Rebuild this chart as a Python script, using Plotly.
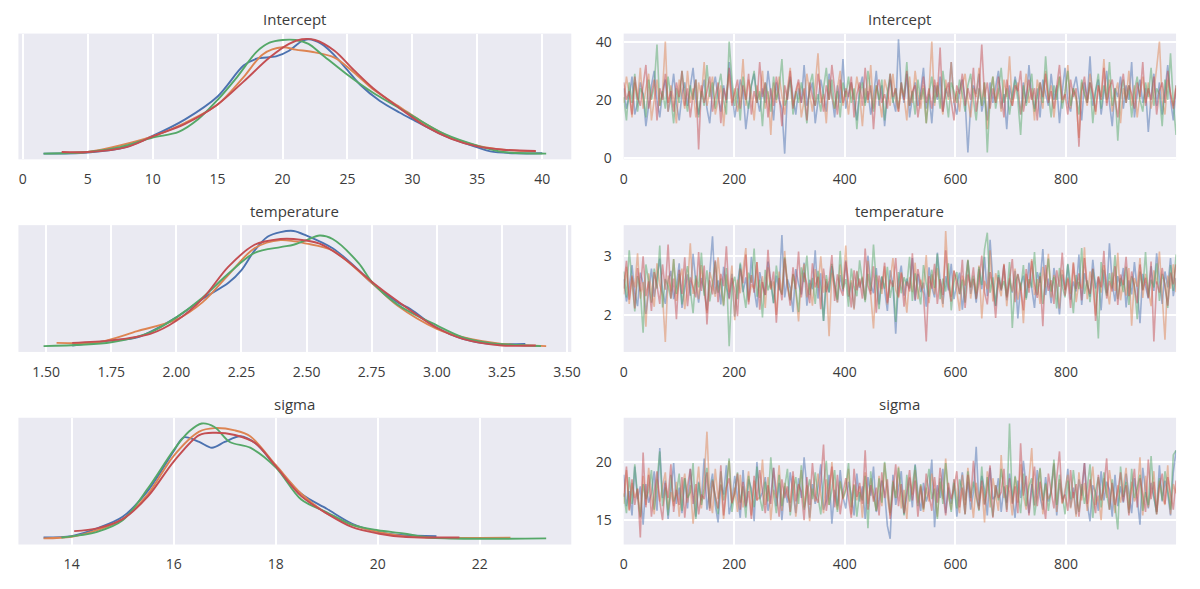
import numpy as np
import plotly.graph_objects as go

# ---------------- data ----------------
params = ["Intercept", "temperature", "sigma"]
chain_colors = ["#4C72B0", "#DD8452", "#55A868", "#C44E52"]

# KDE curves (x = parameter value, y = relative density), one list per chain
intercept_kde_x = [
    [1.6, 5, 8, 10, 12.5, 15, 17, 18, 19.5, 20.5, 21.5, 22, 23, 24, 25, 26, 27.5, 29, 30, 32.5, 35, 36, 38, 40],
    [3.0, 5, 10, 12.5, 15, 17, 18.5, 20, 21, 22.5, 24, 25.5, 27, 29, 31, 33, 35, 37, 39.5],
    [1.6, 5, 7.5, 10, 12, 13.5, 15, 16.5, 18, 19, 20, 21, 22, 23, 25, 27, 28.5, 30, 32.5, 35, 37, 40.3],
    [3.0, 5, 8, 10, 12.5, 15, 17, 19, 20.5, 21.5, 22.5, 24, 25.5, 27, 29, 31, 33, 35, 37, 39.5],
]
intercept_kde_y = [
    [0.0, 0.01, 0.06, 0.155, 0.30, 0.50, 0.77, 0.83, 0.85, 0.90, 0.985, 1.0, 0.96, 0.86, 0.73, 0.60, 0.46, 0.36, 0.30, 0.155, 0.055, 0.02, 0.003, 0.003],
    [0.01, 0.014, 0.15, 0.27, 0.43, 0.67, 0.87, 0.93, 0.91, 0.886, 0.84, 0.71, 0.56, 0.41, 0.26, 0.14, 0.07, 0.034, 0.02],
    [0.0, 0.014, 0.057, 0.14, 0.19, 0.30, 0.47, 0.67, 0.89, 0.97, 0.994, 0.994, 0.96, 0.87, 0.69, 0.53, 0.43, 0.33, 0.17, 0.07, 0.014, 0.0],
    [0.014, 0.014, 0.057, 0.15, 0.26, 0.43, 0.63, 0.84, 0.96, 1.0, 0.994, 0.90, 0.73, 0.57, 0.40, 0.24, 0.13, 0.063, 0.034, 0.023],
]
temperature_kde_x = [
    [1.6, 1.75, 1.85, 2.0, 2.1, 2.2, 2.25, 2.3, 2.35, 2.4, 2.45, 2.5, 2.6, 2.7, 2.75, 2.85, 2.9, 3.0, 3.1, 3.2, 3.34],
    [1.54, 1.7, 1.85, 2.0, 2.1, 2.2, 2.3, 2.4, 2.5, 2.6, 2.75, 2.85, 3.0, 3.1, 3.25, 3.42],
    [1.49, 1.75, 1.9, 2.0, 2.1, 2.2, 2.3, 2.4, 2.45, 2.5, 2.55, 2.6, 2.7, 2.75, 2.85, 3.0, 3.1, 3.2, 3.4],
    [1.6, 1.75, 1.9, 2.0, 2.1, 2.2, 2.3, 2.4, 2.45, 2.55, 2.65, 2.75, 2.85, 3.0, 3.1, 3.25, 3.38],
]
temperature_kde_y = [
    [0.006, 0.05, 0.077, 0.25, 0.41, 0.55, 0.66, 0.83, 0.95, 0.99, 1.0, 0.96, 0.85, 0.66, 0.55, 0.38, 0.32, 0.16, 0.063, 0.02, 0.02],
    [0.029, 0.034, 0.13, 0.23, 0.38, 0.62, 0.85, 0.92, 0.89, 0.83, 0.55, 0.35, 0.15, 0.077, 0.02, 0.0],
    [0.0, 0.034, 0.12, 0.25, 0.42, 0.63, 0.81, 0.86, 0.88, 0.92, 0.96, 0.93, 0.72, 0.56, 0.36, 0.18, 0.077, 0.029, 0.0],
    [0.029, 0.05, 0.106, 0.22, 0.41, 0.69, 0.88, 0.93, 0.93, 0.89, 0.75, 0.56, 0.39, 0.16, 0.063, 0.006, 0.006],
]
sigma_kde_x = [
    [13.45, 14, 14.5, 15, 15.5, 16, 16.2, 16.5, 16.75, 17, 17.3, 17.6, 18, 18.5, 19, 19.5, 20, 20.5, 21.15],
    [13.45, 14, 14.5, 15, 15.5, 16, 16.5, 16.8, 17.2, 17.5, 18, 18.5, 19, 19.5, 20, 20.5, 21, 22.6],
    [13.8, 14.5, 15, 15.5, 16, 16.3, 16.55, 16.8, 17.1, 17.5, 18, 18.5, 19, 19.5, 20, 20.5, 21, 22, 23.3],
    [14.05, 14.5, 15, 15.5, 16, 16.5, 16.8, 17.2, 17.6, 18, 18.5, 19, 19.5, 20, 20.5, 21.6],
]
sigma_kde_y = [
    [0.011, 0.023, 0.09, 0.19, 0.42, 0.76, 0.88, 0.84, 0.79, 0.84, 0.89, 0.83, 0.63, 0.39, 0.26, 0.13, 0.06, 0.03, 0.023],
    [0.003, 0.017, 0.074, 0.17, 0.39, 0.72, 0.93, 0.96, 0.94, 0.89, 0.64, 0.39, 0.22, 0.12, 0.06, 0.023, 0.009, 0.009],
    [0.011, 0.06, 0.16, 0.44, 0.77, 0.93, 1.0, 0.97, 0.84, 0.79, 0.62, 0.34, 0.23, 0.12, 0.074, 0.046, 0.011, 0.0, 0.003],
    [0.066, 0.09, 0.17, 0.37, 0.67, 0.90, 0.92, 0.90, 0.83, 0.63, 0.37, 0.22, 0.10, 0.046, 0.017, 0.011],
]

# Trace samples: thinned reading of the 1000 draws of each chain (200 per chain)
n_draws = 1000
intercept_trace = [
    [24, 17, 21, 28, 15, 19, 26, 22, 11, 18, 25, 30, 20, 14, 23, 27, 16, 21, 29, 19,
     13, 22, 26, 18, 24, 31, 20, 15, 22, 27, 17, 12, 23, 28, 21, 16, 25, 19, 33, 22,
     14, 20, 27, 23, 10, 18, 25, 29, 21, 16, 24, 19, 30, 22, 13, 26, 20, 17, 1.6, 23,
     28, 21, 15, 24, 19, 32, 18, 23, 26, 12, 20, 27, 22, 16, 29, 21, 14, 25, 19, 34,
     17, 22, 26, 20, 13, 24, 28, 19, 23, 15, 21, 30, 18, 25, 11, 22, 27, 20, 16, 40.8,
     24, 19, 29, 14, 21, 26, 18, 23, 31, 17, 22, 12, 25, 20, 28, 16, 24, 21, 33, 19,
     15, 23, 27, 20, 2, 18, 25, 22, 29, 16, 21, 13, 26, 19, 24, 30, 17, 22, 10, 25,
     20, 28, 23, 15, 26, 19, 32, 21, 17, 24, 14, 27, 22, 18, 29, 20, 25, 12, 23, 31,
     19, 16, 24, 28, 21, 13, 26, 20, 35, 18, 23, 27, 15, 22, 30, 19, 11, 24, 21, 28,
     17, 25, 20, 33, 14, 22, 27, 19, 24, 9, 21, 29, 18, 26, 15, 23, 32, 20, 13, 25],
    [19, 28, 22, 14, 26, 20, 31, 17, 24, 29, 13, 21, 27, 18, 23, 40, 16, 25, 20, 12,
     27, 22, 17, 30, 19, 24, 14, 26, 21, 33, 18, 23, 28, 15, 20, 25, 11, 22, 29, 19,
     24, 16, 21, 34, 18, 27, 22, 13, 25, 20, 30, 17, 23, 8, 26, 19, 28, 21, 15, 24,
     31, 18, 22, 26, 14, 20, 29, 23, 16, 25, 36, 19, 22, 12, 27, 21, 17, 24, 30, 18,
     23, 15, 26, 20, 28, 22, 11, 24, 19, 32, 17, 25, 21, 14, 27, 23, 18, 29, 20, 16,
     24, 21, 13, 28, 19, 30, 22, 17, 25, 12, 23, 40, 18, 26, 21, 15, 27, 20, 33, 19,
     23, 16, 25, 29, 20, 14, 24, 21, 31, 18, 26, 10, 22, 28, 19, 24, 16, 27, 21, 35,
     18, 23, 26, 15, 21, 29, 19, 24, 13, 27, 22, 17, 30, 20, 25, 14, 23, 28, 19, 21,
     32, 17, 24, 20, 7, 26, 22, 18, 29, 23, 15, 25, 21, 34, 19, 27, 16, 22, 26, 12,
     24, 20, 30, 18, 25, 14, 22, 28, 19, 26, 17, 23, 31, 40, 20, 15, 27, 22, 18, 25],
    [21, 13, 26, 19, 29, 16, 24, 22, 14, 27, 20, 25, 39, 18, 23, 17, 28, 21, 12, 24,
     19, 30, 22, 16, 25, 20, 27, 14, 23, 18, 32, 21, 26, 17, 24, 29, 20, 15, 40, 27,
     18, 24, 13, 28, 21, 17, 25, 30, 19, 23, 11, 26, 22, 16, 28, 20, 24, 34, 18, 21,
     27, 15, 23, 19, 26, 21, 12, 25, 29, 18, 22, 16, 24, 31, 20, 27, 17, 23, 14, 26,
     21, 28, 19, 24, 10, 22, 26, 18, 30, 23, 16, 25, 20, 27, 13, 22, 29, 19, 24, 17,
     26, 21, 33, 18, 23, 15, 27, 20, 24, 12, 22, 28, 19, 25, 17, 30, 21, 14, 26, 23,
     19, 27, 22, 16, 25, 29, 20, 13, 24, 18, 26, 2, 21, 28, 17, 23, 31, 19, 24, 15,
     22, 27, 20, 8, 25, 18, 23, 29, 16, 21, 26, 19, 35, 22, 14, 25, 20, 28, 17, 23,
     30, 18, 24, 21, 15, 27, 22, 19, 26, 12, 23, 29, 17, 25, 20, 33, 18, 24, 6, 22,
     27, 19, 25, 14, 23, 28, 20, 16, 26, 21, 31, 18, 24, 22, 11, 27, 20, 36, 19, 8],
    [26, 20, 23, 15, 28, 21, 18, 25, 32, 17, 22, 27, 13, 24, 20, 29, 19, 23, 16, 26,
     21, 30, 18, 24, 14, 22, 27, 3, 25, 19, 23, 28, 16, 21, 26, 12, 24, 20, 31, 18,
     22, 27, 17, 25, 20, 29, 15, 23, 19, 33, 21, 26, 14, 24, 18, 28, 22, 11, 25, 20,
     30, 17, 23, 27, 19, 24, 13, 26, 21, 18, 29, 22, 16, 25, 20, 32, 23, 15, 27, 19,
     24, 21, 28, 14, 22, 26, 18, 31, 20, 25, 10, 23, 27, 19, 22, 17, 29, 21, 24, 16,
     26, 20, 30, 18, 23, 25, 14, 22, 28, 19, 24, 17, 27, 21, 38, 16, 23, 26, 20, 13,
     25, 22, 29, 18, 24, 20, 31, 16, 23, 39, 21, 26, 17, 24, 19, 28, 22, 14, 27, 21,
     18, 25, 23, 30, 16, 22, 27, 20, 24, 13, 26, 21, 29, 19, 23, 17, 25, 32, 20, 22,
     15, 27, 21, 24, 4, 23, 28, 19, 26, 22, 16, 25, 20, 31, 18, 24, 27, 21, 14, 23,
     29, 19, 25, 22, 17, 26, 21, 33, 18, 24, 20, 28, 15, 23, 26, 19, 30, 22, 17, 24],
]
temperature_trace = [
    [2.61, 2.23, 2.48, 2.85, 2.37, 2.15, 2.72, 2.54, 2.02, 2.43, 2.79, 2.31, 2.66, 2.96, 2.40, 2.19, 2.58, 2.75, 2.27, 2.50,
     2.88, 2.12, 2.45, 2.69, 2.33, 3.04, 2.55, 2.21, 2.63, 2.41, 2.08, 2.77, 3.34, 2.36, 2.59, 2.18, 2.82, 2.47, 2.29, 2.70,
     1.97, 2.52, 2.86, 2.39, 2.64, 2.25, 2.99, 2.44, 2.13, 2.73, 2.50, 2.34, 2.91, 2.56, 2.20, 2.67, 2.42, 3.36, 2.30, 2.61,
     2.46, 2.05, 2.78, 2.53, 2.35, 2.89, 2.16, 2.60, 2.44, 3.10, 2.28, 2.71, 1.90, 2.57, 2.38, 2.83, 2.49, 2.22, 2.68, 2.40,
     2.93, 2.31, 2.55, 2.11, 2.74, 2.46, 2.63, 2.26, 3.01, 2.52, 2.37, 2.80, 2.18, 2.65, 2.43, 2.07, 2.76, 2.51, 1.68, 2.58,
     2.84, 2.33, 2.62, 2.45, 2.97, 2.24, 2.70, 2.39, 2.55, 2.14, 2.81, 2.48, 2.30, 3.06, 2.59, 2.19, 2.66, 2.42, 2.87, 2.27,
     2.53, 2.72, 2.09, 2.47, 2.92, 2.36, 2.61, 2.21, 2.78, 2.44, 2.99, 2.32, 3.28, 2.56, 2.15, 2.68, 2.41, 2.84, 2.25, 2.60,
     2.38, 2.75, 1.94, 2.50, 2.67, 2.29, 2.89, 2.46, 2.12, 2.73, 2.55, 3.12, 2.34, 2.62, 2.20, 2.80, 2.48, 2.01, 2.69, 2.43,
     2.86, 2.26, 2.57, 2.40, 3.03, 2.17, 2.71, 2.52, 2.31, 2.94, 2.45, 2.64, 2.08, 2.77, 2.37, 3.22, 2.54, 2.23, 2.66, 2.49,
     2.80, 2.13, 2.59, 2.35, 2.90, 2.44, 1.86, 2.70, 2.50, 2.28, 2.83, 2.41, 3.05, 2.56, 2.19, 2.74, 2.47, 2.97, 2.32, 2.63],
    [2.35, 2.82, 2.19, 2.64, 2.47, 3.05, 2.28, 2.56, 1.80, 2.71, 2.42, 2.14, 2.88, 2.51, 2.33, 1.54, 2.67, 2.40, 2.95, 2.24,
     2.58, 2.79, 2.10, 2.49, 3.22, 2.36, 2.62, 2.27, 2.85, 2.44, 2.03, 2.73, 2.55, 2.31, 2.98, 2.46, 2.17, 2.69, 2.39, 2.84,
     1.91, 2.60, 2.37, 2.76, 3.14, 2.22, 2.52, 2.45, 2.90, 2.29, 2.66, 2.12, 2.81, 2.43, 2.57, 2.00, 2.74, 2.34, 3.09, 2.50,
     2.26, 2.70, 2.41, 1.89, 2.63, 2.87, 2.30, 2.54, 2.16, 2.78, 2.46, 3.00, 2.38, 2.61, 1.64, 2.72, 2.49, 2.21, 2.86, 2.44,
     3.18, 2.32, 2.59, 2.09, 2.75, 2.48, 2.65, 2.25, 2.92, 2.40, 1.77, 2.68, 2.53, 2.36, 2.83, 2.18, 2.57, 2.97, 2.43, 2.29,
     2.73, 2.51, 2.04, 2.64, 2.39, 2.89, 2.27, 2.60, 2.45, 3.02, 2.20, 2.69, 2.35, 2.80, 2.48, 2.13, 3.43, 2.55, 2.31, 2.76,
     2.42, 2.07, 2.67, 2.50, 2.94, 2.28, 2.62, 2.37, 2.84, 1.94, 2.58, 2.44, 3.10, 2.23, 2.71, 2.49, 2.32, 2.87, 2.15, 2.63,
     2.40, 2.79, 2.26, 2.55, 1.86, 2.70, 2.46, 2.95, 2.34, 2.61, 2.19, 2.82, 2.47, 3.04, 2.30, 2.68, 2.53, 2.11, 2.77, 2.42,
     2.64, 2.36, 2.90, 2.22, 2.56, 2.45, 3.15, 2.27, 2.74, 2.51, 1.99, 2.66, 2.38, 2.85, 2.47, 2.18, 2.72, 2.41, 3.06, 2.25,
     2.59, 2.33, 2.80, 1.82, 2.63, 2.48, 2.97, 2.29, 2.70, 2.43, 2.15, 2.76, 2.52, 3.08, 2.35, 1.58, 2.67, 2.45, 2.86, 2.39],
    [2.74, 2.30, 3.10, 2.52, 2.06, 2.66, 2.41, 1.70, 2.86, 2.57, 2.21, 2.79, 2.45, 3.18, 2.13, 2.61, 2.49, 2.28, 2.95, 2.36,
     2.70, 2.18, 2.58, 2.83, 2.40, 2.03, 2.67, 2.47, 3.06, 2.33, 2.76, 2.23, 2.54, 2.91, 2.38, 2.62, 2.15, 2.80, 1.47, 2.50,
     2.65, 2.27, 2.89, 2.44, 2.12, 2.72, 2.55, 3.13, 2.31, 2.60, 1.96, 2.77, 2.42, 2.58, 2.20, 2.84, 2.48, 2.35, 2.98, 2.53,
     2.25, 2.69, 2.43, 2.05, 2.81, 2.56, 3.01, 2.34, 2.63, 2.19, 2.75, 2.46, 1.90, 2.68, 2.39, 2.87, 2.52, 2.26, 3.09, 2.44,
     2.61, 2.14, 2.79, 2.48, 2.32, 2.93, 2.57, 2.22, 2.70, 2.41, 3.20, 2.55, 2.10, 2.66, 2.45, 2.82, 2.29, 2.59, 1.88, 2.73,
     2.37, 2.64, 2.50, 2.99, 2.24, 2.71, 2.43, 2.18, 2.85, 2.53, 2.31, 2.77, 2.46, 3.04, 2.27, 2.62, 2.40, 2.88, 2.08, 2.56,
     2.73, 2.35, 2.60, 2.21, 2.94, 2.47, 2.67, 2.28, 2.82, 2.51, 3.12, 3.40, 2.38, 2.64, 2.16, 2.76, 2.44, 2.58, 2.32, 2.90,
     1.78, 2.55, 2.69, 2.42, 2.85, 2.26, 2.61, 2.47, 3.07, 2.34, 2.72, 2.19, 2.57, 2.96, 2.40, 2.65, 2.11, 2.80, 2.49, 2.30,
     2.87, 2.52, 2.03, 2.68, 2.44, 3.14, 2.36, 2.59, 2.22, 2.78, 2.48, 1.60, 2.90, 2.55, 2.33, 2.71, 2.45, 3.02, 2.27, 2.63,
     2.39, 2.82, 2.17, 2.66, 2.50, 1.93, 2.74, 2.43, 3.07, 2.31, 2.60, 2.47, 2.88, 2.24, 2.70, 2.53, 2.12, 2.85, 2.41, 3.03],
    [2.45, 2.92, 2.26, 2.67, 2.11, 2.80, 2.40, 3.00, 2.32, 2.57, 2.07, 2.73, 2.50, 2.19, 2.86, 2.43, 3.20, 2.28, 2.62, 1.93,
     2.77, 2.36, 2.98, 2.15, 2.64, 2.47, 2.30, 3.07, 2.41, 2.84, 1.84, 2.59, 2.35, 2.93, 2.22, 2.70, 2.49, 3.17, 2.27, 2.63,
     2.42, 1.98, 2.79, 2.54, 3.03, 2.18, 2.68, 2.38, 2.90, 2.09, 2.56, 2.34, 3.11, 2.45, 2.74, 1.87, 2.63, 2.25, 2.96, 2.51,
     2.16, 2.81, 2.44, 3.08, 2.30, 2.72, 2.53, 2.20, 2.88, 2.47, 2.65, 2.10, 2.79, 2.39, 2.58, 3.02, 2.24, 2.69, 2.46, 2.33,
     2.91, 2.55, 2.13, 2.76, 2.42, 2.62, 2.28, 3.13, 2.50, 2.35, 2.83, 2.04, 2.67, 2.44, 2.89, 2.21, 2.60, 2.48, 2.97, 2.31,
     2.71, 2.14, 2.57, 2.40, 3.05, 2.26, 2.78, 2.52, 2.37, 1.55, 2.66, 2.45, 2.87, 2.19, 2.61, 2.34, 3.10, 2.49, 2.23, 2.75,
     2.58, 2.36, 2.94, 2.12, 2.69, 2.47, 2.81, 2.27, 2.55, 3.01, 2.39, 2.18, 2.73, 2.50, 1.95, 2.64, 2.43, 2.86, 2.30, 2.60,
     2.95, 2.22, 2.70, 2.46, 2.08, 2.78, 2.38, 2.92, 2.53, 2.29, 2.66, 1.81, 2.85, 2.41, 2.59, 2.19, 2.76, 2.48, 3.06, 2.33,
     2.62, 2.12, 2.88, 2.44, 2.71, 2.25, 2.97, 2.52, 2.36, 2.79, 1.90, 2.65, 2.47, 3.09, 2.28, 2.58, 2.40, 2.83, 2.17, 2.69,
     2.51, 2.99, 2.32, 2.74, 2.45, 2.20, 2.86, 2.42, 2.63, 2.29, 2.91, 1.55, 2.57, 2.38, 2.80, 2.48, 2.16, 2.72, 2.52, 2.86],
]
sigma_trace = [
    [18.9, 16.2, 17.5, 15.4, 19.6, 16.8, 17.9, 14.6, 18.1, 16.5, 17.3, 19.2, 15.8, 21.2, 16.9, 18.4, 15.1, 17.6, 19.9, 16.4,
     17.8, 15.6, 18.6, 16.0, 19.4, 17.1, 15.3, 18.3, 16.7, 20.3, 15.9, 17.6, 19.0, 16.3, 14.8, 18.0, 17.2, 19.7, 15.5, 16.6,
     18.8, 17.0, 15.2, 19.3, 16.1, 18.5, 17.7, 14.9, 20.0, 16.8, 17.4, 18.7, 15.8, 17.0, 19.5, 16.2, 18.2, 15.0, 17.9, 16.5,
     19.1, 17.3, 15.6, 18.6, 16.9, 20.4, 17.5, 15.2, 18.1, 16.4, 17.8, 19.8, 15.9, 16.7, 18.9, 14.7, 17.6, 16.2, 19.3, 17.0,
     16.0, 18.3, 17.2, 15.4, 19.0, 16.6, 17.9, 15.1, 18.7, 17.1, 19.6, 15.7, 16.8, 18.4, 17.4, 14.5, 13.4, 18.9, 16.3, 17.7,
     19.2, 15.5, 17.0, 18.6, 16.1, 19.8, 17.3, 15.8, 18.2, 16.6, 17.5, 20.2, 14.4, 18.0, 16.9, 19.4, 15.6, 17.8, 16.4, 18.5,
     15.3, 17.2, 19.1, 16.7, 18.3, 15.9, 17.4, 21.3, 16.2, 18.8, 17.6, 15.4, 19.5, 16.8, 17.1, 18.6, 15.7, 17.9, 16.5, 19.0,
     17.3, 15.2, 18.4, 16.9, 20.1, 17.7, 15.6, 18.1, 16.3, 19.3, 17.0, 15.9, 18.7, 16.6, 17.5, 19.8, 15.4, 18.2, 16.8, 17.2,
     19.4, 16.1, 17.8, 15.5, 18.5, 17.1, 19.9, 16.4, 14.9, 18.0, 17.4, 15.8, 19.2, 16.7, 18.3, 17.6, 15.3, 18.9, 16.2, 17.9,
     16.5, 19.0, 17.2, 15.6, 18.6, 16.9, 14.6, 19.5, 17.5, 16.0, 18.2, 17.0, 15.7, 19.7, 16.6, 18.4, 17.3, 15.4, 19.1, 21.0],
    [16.4, 19.3, 15.8, 18.2, 16.9, 17.7, 15.2, 18.8, 16.3, 19.5, 17.1, 15.5, 18.5, 16.6, 17.9, 19.1, 15.9, 17.4, 16.2, 18.3,
     15.3, 17.6, 19.0, 16.5, 18.0, 14.7, 17.2, 19.6, 16.0, 18.6, 22.6, 17.0, 15.6, 19.4, 16.8, 18.1, 15.1, 17.5, 20.1, 16.4,
     17.8, 15.7, 18.9, 16.1, 17.3, 19.2, 15.4, 18.4, 16.7, 17.0, 20.2, 16.3, 18.7, 15.0, 17.6, 16.9, 19.7, 15.8, 18.2, 17.1,
     16.5, 18.8, 15.3, 17.4, 19.3, 16.1, 18.0, 14.9, 17.7, 16.6, 19.0, 17.2, 15.6, 18.5, 16.3, 20.0, 17.0, 15.9, 18.3, 16.8,
     17.5, 19.4, 15.5, 18.1, 16.7, 17.9, 15.2, 19.1, 16.4, 18.6, 17.3, 15.8, 18.8, 16.2, 19.9, 17.0, 15.4, 18.4, 16.9, 19.6,
     16.0, 17.6, 15.1, 18.7, 17.2, 19.3, 16.5, 18.0, 15.7, 17.8, 16.6, 19.0, 17.4, 15.3, 18.3, 16.8, 20.3, 17.1, 15.9, 18.5,
     17.0, 15.6, 18.9, 16.3, 19.5, 17.5, 15.2, 18.2, 16.7, 17.9, 14.8, 19.2, 16.1, 18.6, 17.3, 15.8, 20.6, 16.9, 18.0, 17.4,
     15.4, 18.7, 16.5, 19.8, 17.1, 15.9, 18.4, 21.2, 16.2, 17.7, 19.4, 15.5, 18.1, 16.8, 17.3, 19.9, 15.7, 18.5, 16.4, 17.6,
     18.9, 16.0, 17.4, 15.3, 19.1, 16.7, 18.2, 15.8, 17.9, 19.6, 16.3, 17.1, 15.0, 18.6, 16.9, 19.3, 17.5, 15.6, 18.0, 16.5,
     17.8, 19.5, 15.9, 18.3, 16.6, 17.2, 20.4, 15.4, 18.8, 16.1, 17.6, 19.2, 15.7, 18.4, 17.0, 16.3, 19.7, 15.5, 18.1, 17.3],
    [17.3, 15.6, 18.7, 16.4, 19.8, 17.0, 15.3, 18.1, 16.8, 17.5, 19.3, 15.9, 18.4, 20.9, 16.2, 17.8, 15.4, 18.9, 16.6, 17.2,
     19.0, 15.8, 18.6, 16.9, 17.4, 19.9, 15.1, 18.2, 16.3, 17.7, 19.5, 16.0, 18.5, 17.1, 15.5, 19.2, 16.7, 18.0, 20.3, 15.7,
     17.6, 19.1, 16.5, 17.9, 15.2, 18.8, 17.3, 16.1, 19.6, 17.0, 15.8, 18.3, 16.6, 20.4, 17.4, 15.6, 18.9, 16.2, 17.8, 19.4,
     15.4, 17.5, 18.7, 16.4, 19.7, 15.9, 17.2, 18.5, 16.8, 19.1, 17.0, 15.5, 18.1, 20.1, 16.3, 17.6, 19.3, 15.7, 18.4, 16.9,
     17.7, 19.9, 16.1, 18.0, 15.3, 17.4, 16.7, 18.8, 14.3, 19.2, 17.1, 15.8, 18.6, 16.5, 20.0, 17.8, 15.6, 18.3, 16.9, 19.5,
     17.2, 15.4, 18.9, 16.6, 17.9, 19.7, 16.2, 18.1, 15.9, 17.5, 19.4, 16.8, 17.7, 15.1, 18.6, 16.4, 19.9, 17.3, 15.7, 18.2,
     16.0, 18.5, 17.6, 15.5, 19.2, 16.9, 18.3, 17.0, 15.8, 19.6, 16.4, 18.7, 17.2, 15.3, 18.0, 16.7, 19.4, 17.8, 15.9, 23.3,
     16.5, 18.8, 17.4, 15.6, 19.0, 16.2, 17.9, 18.6, 15.4, 17.1, 19.5, 16.7, 18.2, 15.8, 17.6, 20.2, 16.3, 18.9, 17.0, 15.5,
     18.4, 16.8, 19.3, 17.2, 15.7, 18.1, 16.4, 17.8, 19.8, 15.2, 17.5, 18.7, 16.1, 19.1, 17.3, 15.9, 18.5, 16.6, 14.2, 19.6,
     17.0, 18.3, 15.6, 19.4, 16.9, 17.7, 18.9, 15.8, 17.4, 16.3, 20.5, 17.1, 15.5, 18.6, 16.7, 19.2, 17.5, 15.9, 20.6, 21.0],
    [17.0, 19.6, 15.9, 18.5, 16.3, 17.7, 13.5, 20.8, 16.1, 18.9, 15.3, 17.4, 19.2, 16.6, 15.0, 18.2, 16.9, 19.8, 15.7, 17.6,
     16.3, 18.7, 15.2, 17.9, 19.4, 16.4, 18.1, 15.5, 17.2, 16.8, 19.1, 15.8, 18.4, 17.1, 16.0, 19.7, 15.4, 17.8, 18.6, 16.5,
     17.3, 19.0, 15.9, 18.3, 16.2, 17.5, 15.1, 18.8, 16.7, 19.3, 17.2, 15.6, 18.0, 16.4, 19.5, 17.6, 15.3, 18.5, 16.9, 17.9,
     15.7, 19.2, 16.6, 18.1, 17.4, 15.0, 18.7, 16.3, 19.9, 17.1, 16.5, 18.3, 21.5, 15.8, 17.7, 19.6, 16.1, 18.9, 15.5, 17.3,
     18.6, 16.8, 15.2, 19.4, 17.0, 18.2, 16.4, 21.0, 15.9, 18.0, 16.6, 17.8, 15.4, 19.1, 16.9, 18.5, 15.1, 17.4, 19.8, 16.2,
     18.1, 15.6, 17.5, 19.3, 16.7, 18.4, 15.3, 17.9, 16.0, 19.0, 17.2, 15.8, 18.7, 16.5, 19.5, 17.6, 15.4, 18.2, 16.8, 17.7,
     19.2, 16.1, 17.8, 15.5, 18.9, 16.6, 20.1, 17.3, 15.9, 18.4, 16.3, 17.6, 19.7, 15.2, 18.0, 16.9, 17.4, 19.4, 15.7, 18.6,
     16.4, 17.9, 15.6, 21.6, 17.1, 18.8, 15.4, 17.7, 19.6, 16.2, 18.3, 16.8, 15.1, 19.0, 17.5, 16.0, 18.6, 20.9, 16.5, 17.2,
     15.8, 19.3, 16.9, 18.1, 15.3, 17.6, 19.9, 16.4, 18.5, 17.0, 15.6, 18.9, 16.7, 17.8, 20.3, 15.9, 18.2, 16.3, 17.5, 19.1,
     16.6, 18.0, 15.4, 17.7, 19.4, 16.1, 18.6, 17.2, 15.7, 20.2, 16.8, 18.3, 15.5, 17.9, 19.0, 16.4, 18.7, 17.3, 15.9, 18.4],
]

# axis tick settings
kde_ticks = [dict(dtick=5, tick0=0), dict(dtick=0.25, tick0=1.5, tickformat=".2f"), dict(dtick=2, tick0=14)]
trace_yticks = [dict(dtick=20, tick0=0), dict(dtick=1, tick0=0), dict(dtick=5, tick0=0)]
trace_xticks = dict(tickvals=[0, 200, 400, 600, 800])

kde_data = [(intercept_kde_x, intercept_kde_y), (temperature_kde_x, temperature_kde_y), (sigma_kde_x, sigma_kde_y)]
trace_data = [intercept_trace, temperature_trace, sigma_trace]

# ---------------- figure ----------------
OFF = 8                      # page body margin on every side
W, H = 1200 - 2 * OFF, 589 - 2 * OFF
BG = "#EAEAF2"
TXT = "#3b3b3b"
FONT = "Open Sans"


def rgba(hexc, a):
    h = hexc.lstrip("#")
    return "rgba(%d,%d,%d,%.2f)" % (int(h[0:2], 16), int(h[2:4], 16), int(h[4:6], 16), a)


def px_x(p):
    return (p - OFF) / W


def px_y(p):
    return 1 - (p - OFF) / H


fig = go.Figure()

left_dom = [px_x(14.5), px_x(574)]
right_dom = [px_x(627), px_x(1186)]
row_px = [(32, 160), (227, 356), (423, 552)]
title_px = [17, 213, 409]

layout = dict(
    width=W, height=H, margin=dict(l=0, r=0, t=0, b=0),
    paper_bgcolor="white", plot_bgcolor=BG, showlegend=False,
    font=dict(family=FONT, size=14, color=TXT),
)
annotations = []

for r in range(3):
    top, bot = row_px[r]
    ydom = [px_y(bot), px_y(top)]
    li = 2 * r + 1
    ri = 2 * r + 2
    lx = "x" if li == 1 else "x%d" % li
    ly = "y" if li == 1 else "y%d" % li
    rx = "x%d" % ri
    ry = "y%d" % ri

    # KDE panel
    kx, ky = kde_data[r]
    allx = [v for c in kx for v in c]
    xmin, xmax = min(allx), max(allx)
    pad = 0.05 * (xmax - xmin)
    ymax = max(v for c in ky for v in c)
    for c in range(4):
        fig.add_trace(go.Scatter(x=kx[c], y=ky[c], mode="lines", xaxis=lx, yaxis=ly,
                                 line=dict(color=chain_colors[c], width=1.9, shape="spline", smoothing=0.9),
                                 hoverinfo="skip"))
    layout["xaxis" + ("" if li == 1 else str(li))] = dict(
        domain=left_dom, anchor=ly, range=[xmin - pad, xmax + pad],
        showgrid=True, gridcolor="white", gridwidth=1.5, zeroline=False, showline=False,
        ticks="outside", ticklen=7, tickcolor="rgba(0,0,0,0)",
        tickfont=dict(family=FONT, size=14, color=TXT), **kde_ticks[r])
    layout["yaxis" + ("" if li == 1 else str(li))] = dict(
        domain=ydom, anchor=lx, range=[-0.05 * ymax, 1.05 * ymax],
        showgrid=False, zeroline=False, showticklabels=False, showline=False)

    # trace panel
    tr = trace_data[r]
    n = len(tr[0])
    xs = np.linspace(0, n_draws - 1, n)
    for c in range(4):
        fig.add_trace(go.Scatter(x=xs, y=tr[c], mode="lines", xaxis=rx, yaxis=ry,
                                 line=dict(color=rgba(chain_colors[c], 0.5), width=1.6),
                                 hoverinfo="skip"))
    allv = [v for c in tr for v in c]
    vmin, vmax = min(allv), max(allv)
    vp = 0.05 * (vmax - vmin)
    layout["xaxis%d" % ri] = dict(
        domain=right_dom, anchor=ry, range=[0, n_draws - 1],
        showgrid=True, gridcolor="white", gridwidth=1.5, zeroline=False, showline=False,
        ticks="outside", ticklen=7, tickcolor="rgba(0,0,0,0)",
        tickfont=dict(family=FONT, size=14, color=TXT), **trace_xticks)
    layout["yaxis%d" % ri] = dict(
        domain=ydom, anchor=rx, range=[vmin - vp, vmax + vp],
        showgrid=True, gridcolor="white", gridwidth=1.5, zeroline=False, showline=False,
        ticks="outside", ticklen=8, tickcolor="rgba(0,0,0,0)",
        tickfont=dict(family=FONT, size=14, color=TXT), **trace_yticks[r])

    ty = px_y(title_px[r])
    for dom in (left_dom, right_dom):
        annotations.append(dict(text=params[r], x=(dom[0] + dom[1]) / 2, y=ty,
                                xref="paper", yref="paper", showarrow=False,
                                xanchor="center", yanchor="middle",
                                font=dict(family=FONT, size=15, color=TXT)))

layout["annotations"] = annotations
fig.update_layout(**layout)
fig.write_html("out.html")
